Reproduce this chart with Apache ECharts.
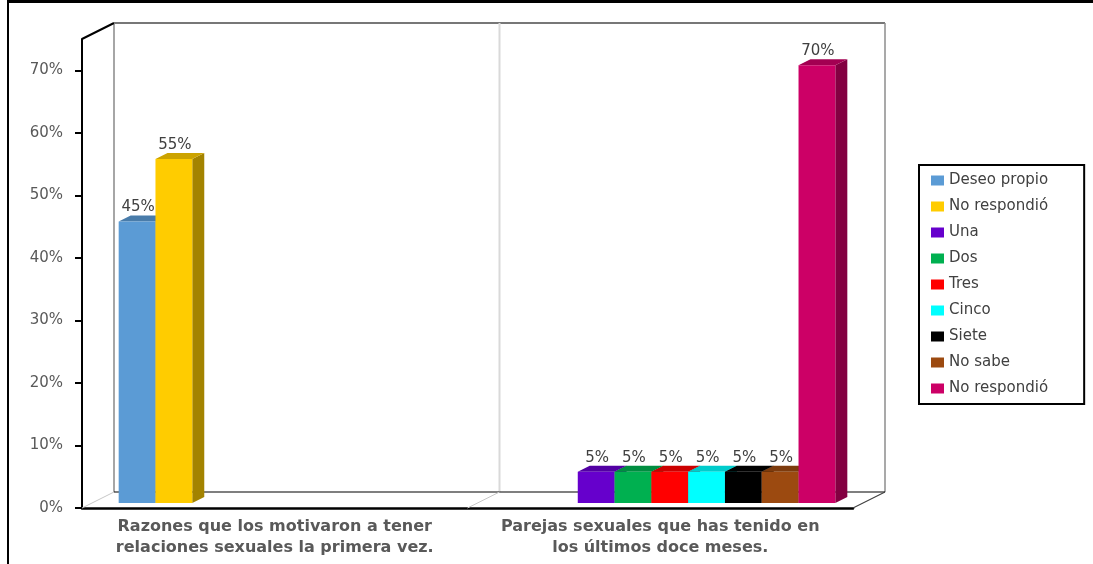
<!DOCTYPE html>
<html>
<head>
<meta charset="utf-8">
<script src="https://cdn.jsdelivr.net/npm/echarts@6/dist/echarts.min.js"></script>
<style>
  html, body { margin: 0; padding: 0; background: #fff; }
  #chart { width: 1093px; height: 564px; }
</style>
</head>
<body>
<div id="chart"></div>
<script>
// Categories on the horizontal axis
const categories = [
  'Razones que los motivaron a tener\nrelaciones sexuales la primera vez.',
  'Parejas sexuales que has tenido en\nlos últimos doce meses.'
];
// One series per answer; the trailing space keeps the second "No respondió" a separate legend entry
const seriesNames = ['Deseo propio', 'No respondió', 'Una', 'Dos', 'Tres', 'Cinco', 'Siete', 'No sabe', 'No respondió '];
// Category each series belongs to
const seriesCategory = [0, 0, 1, 1, 1, 1, 1, 1, 1];
// Share of respondents
const seriesValues = [0.45, 0.55, 0.05, 0.05, 0.05, 0.05, 0.05, 0.05, 0.70];
// Value-axis tick labels
const yTicks = [0, 0.1, 0.2, 0.3, 0.4, 0.5, 0.6, 0.7];

// Series colours
const palette = ['#5b9bd5', '#ffcc00', '#6600cc', '#00b050', '#ff0000', '#00ffff', '#000000', '#9c4a10', '#cc0066'];

const FONT = '"DejaVu Sans", Verdana, sans-serif';
const CLUSTER = 0.859;      // share of each category band taken by the bar cluster
const BAR_DX = 9.5, BAR_DY = -5;   // bars sit a little behind the front axis plane
const DEP_X = 12, DEP_Y = -6;      // depth of each 3D bar
const WALL_DX = 32, WALL_DY = -16; // depth of the back wall

function shade(hex, k) {
  const n = parseInt(hex.slice(1), 16);
  const r = Math.round(((n >> 16) & 255) * k);
  const g = Math.round(((n >> 8) & 255) * k);
  const b = Math.round((n & 255) * k);
  return 'rgb(' + r + ',' + g + ',' + b + ')';
}

function renderBar(params, api) {
  const si = params.seriesIndex;
  const cat = api.value(0);
  const v = api.value(1);
  const base = api.coord([cat, 0]);
  const top = api.coord([cat, v]);
  const band = api.size([1, 0])[0];
  const slot = band * CLUSTER / seriesNames.length;
  const x0 = base[0] - band * CLUSTER / 2 + si * slot + BAR_DX;
  const x1 = x0 + slot;
  const yb = base[1] + BAR_DY;
  const yt = top[1] + BAR_DY;
  const c = palette[si];
  return {
    type: 'group',
    children: [
      { type: 'polygon', shape: { points: [[x1, yb], [x1 + DEP_X, yb + DEP_Y], [x1 + DEP_X, yt + DEP_Y], [x1, yt]] },
        style: { fill: shade(c, 0.64) } },
      { type: 'polygon', shape: { points: [[x0, yt], [x1, yt], [x1 + DEP_X, yt + DEP_Y], [x0 + DEP_X, yt + DEP_Y]] },
        style: { fill: shade(c, 0.8) } },
      { type: 'rect', shape: { x: x0, y: yt, width: slot, height: yb - yt }, style: { fill: c } },
      { type: 'text', x: (x0 + x1) / 2 + 1, y: yt - 14,
        style: { text: Math.round(v * 100) + '%', align: 'center', verticalAlign: 'middle',
                 fill: '#404040', font: '15px ' + FONT } }
    ]
  };
}

const chart = echarts.init(document.getElementById('chart'), null, { renderer: 'canvas' });

const series = seriesNames.map((name, i) => ({
  name: name,
  type: 'custom',
  coordinateSystem: 'cartesian2d',
  renderItem: renderBar,
  itemStyle: { color: palette[i] },
  encode: { x: 0, y: 1 },
  data: [[seriesCategory[i], seriesValues[i]]],
  z: 3
}));

chart.setOption({
  animation: false,
  backgroundColor: '#fff',
  grid: { left: 82, right: 240, top: 39, bottom: 56 },
  legend: {
    data: seriesNames,
    orient: 'vertical',
    left: 919, top: 165,
    padding: [8, 36, 8, 12],
    itemGap: 11,
    itemWidth: 13, itemHeight: 10,
    icon: 'rect',
    borderColor: '#000', borderWidth: 2,
    formatter: n => n.trim(),
    textStyle: { fontFamily: FONT, fontSize: 15, color: '#404040' }
  },
  xAxis: {
    type: 'category',
    data: categories,
    axisLine: { lineStyle: { color: '#000', width: 2.5 } },
    axisTick: { show: false },
    axisLabel: { interval: 0, margin: 8, fontFamily: FONT, fontSize: 16, fontWeight: 'bold',
                 color: '#595959', lineHeight: 21, align: 'center' },
    splitLine: { show: false }
  },
  yAxis: {
    type: 'value',
    min: 0, max: 0.75, interval: 0.1,
    axisLine: { show: true, lineStyle: { color: '#000', width: 2 } },
    axisTick: { show: true, length: 7, lineStyle: { color: '#000', width: 2 }, customValues: yTicks },
    axisLabel: { margin: 19, fontFamily: FONT, fontSize: 15, color: '#595959',
                 customValues: yTicks, formatter: v => Math.round(v * 100) + '%' },
    splitLine: { show: false }
  },
  series: series
});

// Back wall, floor edges and outer frame, placed from the axis scales
const c0 = chart.convertToPixel({ xAxisIndex: 0 }, 0);
const c1 = chart.convertToPixel({ xAxisIndex: 0 }, 1);
const band = c1 - c0;
const xl = c0 - band / 2, xm = c0 + band / 2, xr = c1 + band / 2;
const y0 = chart.convertToPixel({ yAxisIndex: 0 }, 0);
const yTop = chart.convertToPixel({ yAxisIndex: 0 }, 0.75);

function seg(x1, y1, x2, y2, color, w, extra) {
  return Object.assign({ type: 'line', shape: { x1, y1, x2, y2 }, style: { stroke: color, lineWidth: w }, z: 1 }, extra || {});
}

chart.setOption({
  graphic: [
    // outer frame
    seg(8, 1.5, 1093, 1.5, '#000', 3, { z: 10 }),
    seg(8, 0, 8, 564, '#000', 2, { z: 10 }),
    // back wall
    seg(xl + WALL_DX, yTop + WALL_DY, xr + WALL_DX, yTop + WALL_DY, '#777', 2),
    seg(xl + WALL_DX, yTop + WALL_DY, xl + WALL_DX, y0 + WALL_DY, '#a6a6a6', 2),
    seg(xm + WALL_DX, yTop + WALL_DY, xm + WALL_DX, y0 + WALL_DY, '#d9d9d9', 2),
    seg(xr + WALL_DX, yTop + WALL_DY, xr + WALL_DX, y0 + WALL_DY, '#8c8c8c', 1.5),
    // floor
    seg(xl + WALL_DX, y0 + WALL_DY, xr + WALL_DX, y0 + WALL_DY, '#000', 1.2),
    seg(xl, y0, xl + WALL_DX, y0 + WALL_DY, '#c8c8c8', 1),
    seg(xm, y0, xm + WALL_DX, y0 + WALL_DY, '#c8c8c8', 1),
    seg(xr, y0, xr + WALL_DX, y0 + WALL_DY, '#404040', 1.2),
    // top edge of the side wall
    seg(xl, yTop, xl + WALL_DX, yTop + WALL_DY, '#000', 2)
  ]
});
</script>
</body>
</html>
